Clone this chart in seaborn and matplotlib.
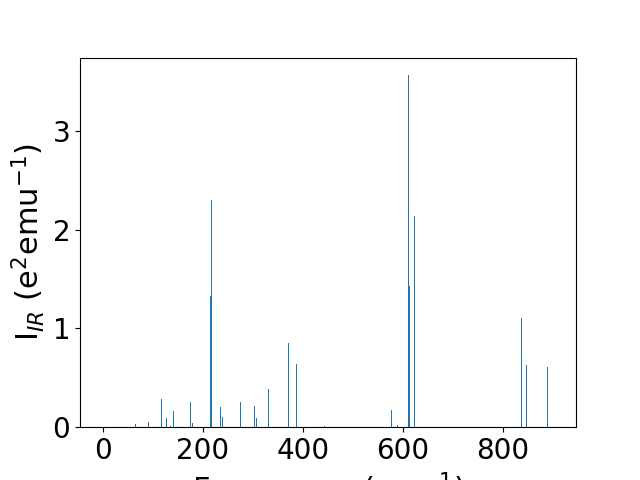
import seaborn as sns
import matplotlib.pyplot as plt
import numpy as np

# Frequencias (cm^-1) e intensidades IR
freq = [65, 91, 117, 118, 127, 135, 141, 142, 175, 179, 215, 217, 235, 239,
        275, 303, 307, 331, 371, 387, 443, 577, 589, 611, 613, 623, 718,
        837, 847, 889]
intensidade = [0.03, 0.05, 0.29, 0.12, 0.09, 0.01, 0.16, 0.01, 0.26, 0.04,
               1.33, 2.30, 0.20, 0.10, 0.25, 0.21, 0.09, 0.39, 0.85, 0.64,
               0.01, 0.17, 0.02, 3.56, 1.43, 2.14, 0.24, 1.11, 0.63, 0.61]

plt.rcParams['font.size'] = 20

fig, ax = plt.subplots(figsize=(6.4, 4.8), dpi=100)
sns.barplot(x=freq, y=intensidade, native_scale=True, errorbar=None,
            color='#1f77b4', saturation=1, width=0.8, ax=ax)
ax.set_xlim(-46, 946)
ax.set_ylim(0, 3.74)
ax.set_xticks([0, 200, 400, 600, 800])
ax.set_yticks([0, 1, 2, 3])
ax.set_xlabel('Frequency (cm$^{-1}$)', fontsize=22)
ax.set_ylabel('I$_{IR}$ (e$^2$emu$^{-1}$)', fontsize=22)
fig.subplots_adjust(left=0.125, right=0.9, bottom=0.11, top=0.88)
fig.savefig('out.png', dpi=100)
